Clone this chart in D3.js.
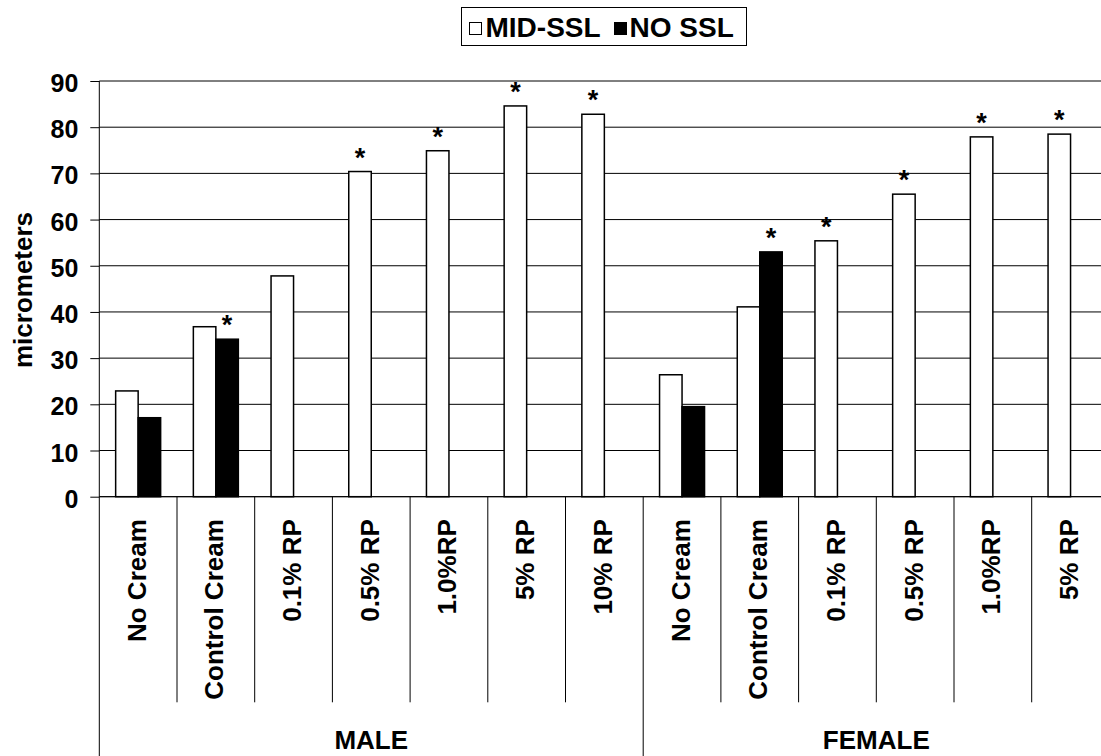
<!DOCTYPE html>
<html>
<head>
<meta charset="utf-8">
<script src="https://cdn.jsdelivr.net/npm/d3@7"></script>
<style>
  html, body { margin: 0; padding: 0; background: #fff; }
  svg { display: block; }
  text { font-family: "Liberation Sans", Arial, sans-serif; font-weight: bold; fill: #000; }
</style>
</head>
<body>
<svg id="chart" width="1101" height="756"></svg>
<script>
// ---- data ----
const groups = ["MALE", "FEMALE"];
const categories = ["No Cream", "Control Cream", "0.1% RP", "0.5% RP", "1.0%RP", "5% RP", "10% RP",
                    "No Cream", "Control Cream", "0.1% RP", "0.5% RP", "1.0%RP", "5% RP"];
const categoryGroup = ["MALE","MALE","MALE","MALE","MALE","MALE","MALE",
                       "FEMALE","FEMALE","FEMALE","FEMALE","FEMALE","FEMALE"];
const seriesNames = ["MID-SSL", "NO SSL"];
const midSSL = [22.9, 36.8, 47.8, 70.4, 74.9, 84.6, 82.8, 26.4, 41.1, 55.4, 65.5, 77.9, 78.5];
const noSSL  = [17.1, 34.1, null, null, null, null, null, 19.5, 53.0, null, null, null, null];
const midSig = [false, false, false, true, true, true, true, false, false, true, true, true, true];
const noSig  = [false, true, false, false, false, false, false, false, true, false, false, false, false];
const yTicks = [0, 10, 20, 30, 40, 50, 60, 70, 80, 90];
const yTitle = "micrometers";

// ---- layout ----
const svg = d3.select("#chart");
const pLeft = 99.3, pRight = 1109.4, pTop = 81, pBottom = 496.7;
const idx = d3.range(categories.length);

const x = d3.scaleBand().domain(idx).range([pLeft, pRight]).paddingInner(0).paddingOuter(0);
const x1 = d3.scaleBand().domain(seriesNames).range([0, x.bandwidth()]).paddingInner(0).paddingOuter(0.727);
const y = d3.scaleLinear().domain([0, 90]).range([pBottom, pTop]);

// gridlines
svg.append("g").selectAll("line").data(yTicks).join("line")
  .attr("x1", pLeft).attr("x2", pRight)
  .attr("y1", d => y(d)).attr("y2", d => y(d))
  .attr("stroke", "#000").attr("stroke-width", 1);

// y axis
const yAxis = d3.axisLeft(y).tickValues(yTicks).tickSize(9).tickPadding(12);
const gy = svg.append("g").attr("transform", `translate(${pLeft},0)`).call(yAxis);
gy.select(".domain").remove();
gy.selectAll(".tick line").attr("stroke", "#000");
gy.selectAll(".tick text")
  .attr("font-size", 25).attr("font-family", "Liberation Sans, Arial, sans-serif")
  .attr("font-weight", "bold").attr("fill", "#000")
  .attr("dy", "0.42em");

// bars
const barData = [];
idx.forEach(i => {
  barData.push({ i, s: "MID-SSL", v: midSSL[i], sig: midSig[i] });
  if (noSSL[i] != null) barData.push({ i, s: "NO SSL", v: noSSL[i], sig: noSig[i] });
});
svg.append("g").selectAll("rect").data(barData).join("rect")
  .attr("x", d => x(d.i) + x1(d.s))
  .attr("y", d => y(d.v))
  .attr("width", x1.bandwidth())
  .attr("height", d => y(0) - y(d.v))
  .attr("fill", d => d.s === "MID-SSL" ? "#fff" : "#000")
  .attr("stroke", "#000").attr("stroke-width", 1.5);

// asterisks
svg.append("g").selectAll("text").data(barData.filter(d => d.sig)).join("text")
  .attr("x", d => x(d.i) + x1(d.s) + x1.bandwidth() / 2)
  .attr("y", d => y(d.v) - 5)
  .attr("text-anchor", "middle")
  .attr("font-size", 27)
  .text("*");

// zero line + y axis line (extends down as group separator)
svg.append("line").attr("x1", pLeft).attr("x2", pRight).attr("y1", y(0)).attr("y2", y(0)).attr("stroke", "#000");
svg.append("line").attr("x1", pLeft).attr("x2", pLeft).attr("y1", pTop).attr("y2", 756).attr("stroke", "#000");

// category axis
const catBottom = 702.3;
const xAxis = d3.axisBottom(x).tickSize(0).tickFormat(i => categories[i]);
const gx = svg.append("g").attr("transform", `translate(0,${pBottom})`).call(xAxis);
gx.select(".domain").remove();
gx.selectAll(".tick text")
  .attr("font-size", 26).attr("font-family", "Liberation Sans, Arial, sans-serif")
  .attr("font-weight", "bold").attr("fill", "#000")
  .attr("text-anchor", "end")
  .attr("transform", "rotate(-90)")
  .attr("x", -22.5).attr("y", 7.5).attr("dy", 0);

// category separators
const bounds = d3.range(categories.length + 1);
svg.append("g").selectAll("line").data(bounds.filter(b => b > 0 && b < categories.length && categoryGroup[b] === categoryGroup[b - 1])).join("line")
  .attr("x1", b => pLeft + b * x.step()).attr("x2", b => pLeft + b * x.step())
  .attr("y1", pBottom).attr("y2", catBottom).attr("stroke", "#000");
// group separators
const groupBounds = bounds.filter(b => b > 0 && (b === categories.length || categoryGroup[b] !== categoryGroup[b - 1]));
svg.append("g").selectAll("line").data(groupBounds).join("line")
  .attr("x1", b => pLeft + b * x.step()).attr("x2", b => pLeft + b * x.step())
  .attr("y1", pBottom).attr("y2", 756).attr("stroke", "#000");

// group labels
svg.append("g").selectAll("text").data(groups).join("text")
  .attr("x", g => {
    const ii = idx.filter(i => categoryGroup[i] === g);
    return (x(ii[0]) + x(ii[ii.length - 1]) + x.bandwidth()) / 2;
  })
  .attr("y", 749)
  .attr("text-anchor", "middle")
  .attr("font-size", 26)
  .text(g => g);

// y title
svg.append("text")
  .attr("transform", "translate(31.5,290) rotate(-90)")
  .attr("text-anchor", "middle")
  .attr("font-size", 26)
  .text(yTitle);

// legend
const lg = svg.append("g");
lg.append("rect").attr("x", 461.5).attr("y", 7.5).attr("width", 285).attr("height", 38)
  .attr("fill", "#fff").attr("stroke", "#000").attr("stroke-width", 1);
const legendItems = [
  { s: seriesNames[0], sx: 469.5, tx: 485.5, fill: "#fff" },
  { s: seriesNames[1], sx: 614.5, tx: 629.5, fill: "#000" }
];
legendItems.forEach(it => {
  lg.append("rect").attr("x", it.sx).attr("y", 22.5).attr("width", 12).attr("height", 12)
    .attr("fill", it.fill).attr("stroke", "#000").attr("stroke-width", 1);
  lg.append("text").attr("x", it.tx).attr("y", 36.5).attr("font-size", 28).text(it.s);
});
</script>
</body>
</html>
